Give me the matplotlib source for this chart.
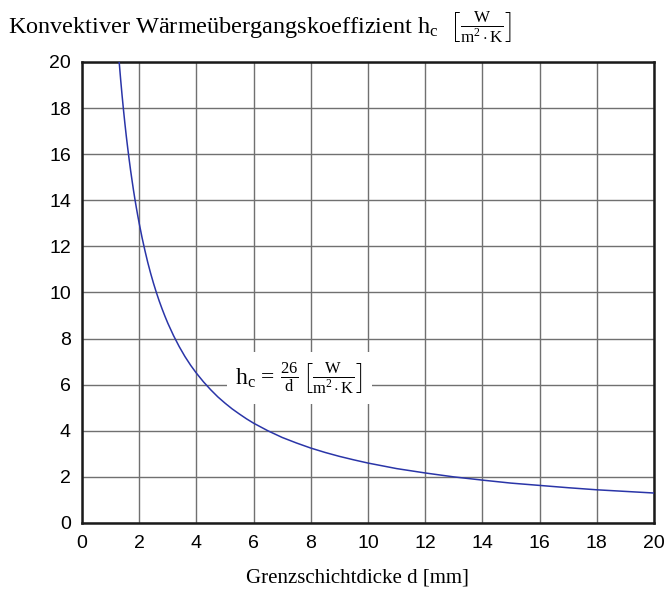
import numpy as np
import matplotlib.pyplot as plt

# Werte (Grenzschichtdicke d in mm, h_c in W/m2K)
d_mm = [1.3, 1.35, 1.4, 1.45, 1.5, 1.55, 1.6, 1.65, 1.7, 1.75, 1.8, 1.85, 1.9, 1.95,
        2.0, 2.1, 2.2, 2.3, 2.4, 2.5, 2.6, 2.7, 2.8, 2.9, 3.0, 3.2, 3.4, 3.6, 3.8,
        4.0, 4.25, 4.5, 4.75, 5.0, 5.25, 5.5, 5.75, 6.0, 6.5, 7.0, 7.5, 8.0, 8.5,
        9.0, 9.5, 10.0, 11.0, 12.0, 13.0, 14.0, 15.0, 16.0, 17.0, 18.0, 19.0, 20.0]
h_c = [20.0, 19.26, 18.57, 17.93, 17.33, 16.77, 16.25, 15.76, 15.29, 14.86, 14.44,
       14.05, 13.68, 13.33, 13.0, 12.38, 11.82, 11.3, 10.83, 10.4, 10.0, 9.63, 9.29,
       8.97, 8.67, 8.13, 7.65, 7.22, 6.84, 6.5, 6.12, 5.78, 5.47, 5.2, 4.95, 4.73,
       4.52, 4.33, 4.0, 3.71, 3.47, 3.25, 3.06, 2.89, 2.74, 2.6, 2.36, 2.17, 2.0,
       1.86, 1.73, 1.63, 1.53, 1.44, 1.37, 1.3]

x_ticks = list(range(0, 21, 2))
y_ticks = list(range(0, 21, 2))

serif = 'Liberation Serif'
sans = 'Liberation Sans'

plt.rcParams['mathtext.fontset'] = 'custom'
plt.rcParams['mathtext.rm'] = serif
plt.rcParams['mathtext.it'] = serif + ':italic'
plt.rcParams['mathtext.bf'] = serif + ':bold'

fig = plt.figure(figsize=(6.65, 5.96), dpi=100)
ax = fig.add_axes([0.1233, 0.1225, 0.8602, 0.7735])

ax.plot(d_mm, h_c, color='#2a35a8', lw=1.1, zorder=3)

ax.set_xlim(0, 20)
ax.set_ylim(0, 20)
ax.set_xticks(x_ticks)
ax.set_yticks(y_ticks)
ax.tick_params(length=0, labelsize=14)
ax.tick_params(axis='x', pad=9)
ax.tick_params(axis='y', pad=8)
for lab in ax.get_xticklabels() + ax.get_yticklabels():
    lab.set_family(sans)
ax.grid(True, color='#707070', lw=1.0)
ax.set_axisbelow(True)
for s in ax.spines.values():
    s.set_linewidth(1.8)
    s.set_color('#1a1a1a')

fig.text(0.538, 0.030, 'Grenzschichtdicke d [mm]',
         ha='center', va='center', fontsize=15, family=serif)

fig.text(0.012, 0.955,
         r'Konvektiver Wärmeübergangskoeffizient h$_\mathrm{c}$  $\left[\frac{\mathrm{W}}{\mathrm{m^2 \cdot K}}\right]$',
         ha='left', va='center', fontsize=17.5, family=serif)

ax.text(7.6, 6.3,
        r'h$_\mathrm{c}$ = $\frac{26}{\mathrm{d}}\,\left[\frac{\mathrm{W}}{\mathrm{m^2 \cdot K}}\right]$',
        ha='center', va='center', fontsize=17, family=serif, zorder=4,
        bbox=dict(facecolor='white', edgecolor='none', pad=6))

fig.savefig('out.png', dpi=100)
